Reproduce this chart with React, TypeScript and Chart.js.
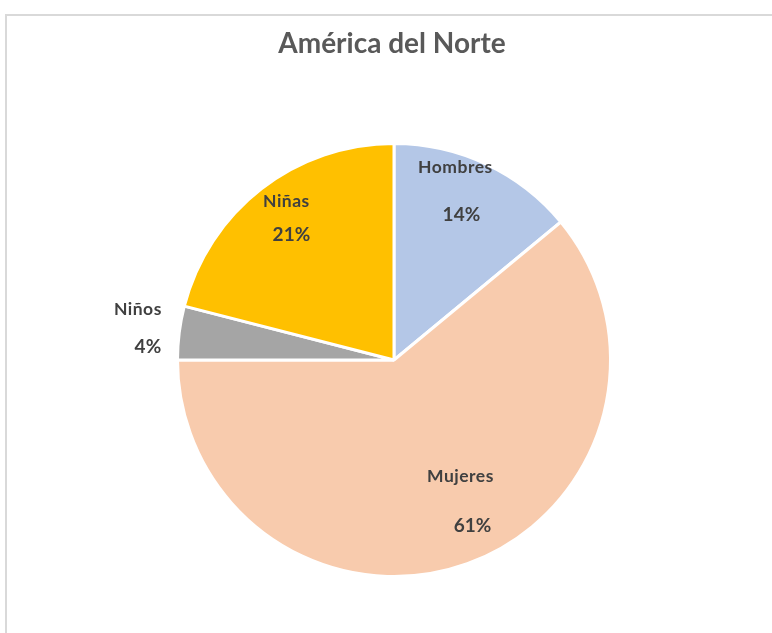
import React, { useEffect, useRef } from "react";
import { Chart, registerables } from "chart.js";

Chart.register(...registerables);

const title = "América del Norte";
const categories = ["Hombres", "Mujeres", "Niños", "Niñas"];
const values = [14, 61, 4, 21];
const colors = ["#b4c7e7", "#f8cbad", "#a5a5a5", "#ffc000"];
// label placement styling (fraction of radius, angle offset in degrees, line gap, pct x shift)
const labelRadius = [0.834, 0.732, 1.169, 0.816];
const labelAngleOffset = [-4.3, -7.4, 0, 1.3];
const labelGap = [47, 50, 38, 34];
const pctShift = [6, 12, 10, 5];

const FONT = "Lato, 'Open Sans', sans-serif";

const decorPlugin = {
  id: "decor",
  beforeDraw(chart: any) {
    const ctx = chart.ctx;
    ctx.save();
    ctx.strokeStyle = "#d9d9d9";
    ctx.lineWidth = 2;
    ctx.beginPath();
    ctx.moveTo(6, 700);
    ctx.lineTo(6, 15);
    ctx.lineTo(772, 15);
    ctx.stroke();
    ctx.fillStyle = "#595959";
    ctx.font = `bold 28px ${FONT}`;
    ctx.textAlign = "center";
    ctx.textBaseline = "middle";
    ctx.fillText(title, 392, 44);
    ctx.restore();
  },
  afterDatasetsDraw(chart: any) {
    const ctx = chart.ctx;
    const meta = chart.getDatasetMeta(0);
    const data = chart.data.datasets[0].data as number[];
    const total = data.reduce((a, b) => a + b, 0);
    ctx.save();
    ctx.textAlign = "center";
    ctx.textBaseline = "middle";
    ctx.fillStyle = "#404040";
    meta.data.forEach((arc: any, i: number) => {
      const { x, y, startAngle, endAngle, outerRadius } = arc.getProps(
        ["x", "y", "startAngle", "endAngle", "outerRadius"],
        true
      );
      const mid = (startAngle + endAngle) / 2 + (labelAngleOffset[i] * Math.PI) / 180;
      const r = outerRadius * labelRadius[i];
      const cx = x + Math.cos(mid) * r;
      const cy = y + Math.sin(mid) * r;
      const g = labelGap[i] / 2;
      const s = pctShift[i] / 2;
      ctx.font = `bold 17.5px ${FONT}`;
      (ctx as any).letterSpacing = "0.5px";
      ctx.fillText(String(chart.data.labels[i]), cx - s, cy - g);
      ctx.font = `bold 19px ${FONT}`;
      (ctx as any).letterSpacing = "0px";
      ctx.fillText(Math.round((data[i] / total) * 100) + "%", cx + s, cy + g);
    });
    ctx.restore();
  },
};

export default function App() {
  const ref = useRef<HTMLCanvasElement>(null);
  useEffect(() => {
    document.body.style.margin = "0";
    document.body.style.overflow = "hidden";
    const chart = new Chart(ref.current!, {
      type: "pie",
      data: {
        labels: categories,
        datasets: [
          {
            data: values,
            backgroundColor: colors,
            borderColor: "#ffffff",
            borderWidth: 3,
          },
        ],
      },
      options: {
        animation: false,
        responsive: false,
        layout: { padding: { left: 176, right: 160, top: 142, bottom: 55 } },
        plugins: {
          legend: { display: false },
          title: { display: false },
          tooltip: { enabled: false },
        },
      },
      plugins: [decorPlugin],
    });
    return () => chart.destroy();
  }, []);
  return (
    <div style={{ position: "relative", width: 772, height: 633, background: "#fff" }}>
      <canvas ref={ref} width={772} height={633} style={{ display: "block" }} />
    </div>
  );
}
